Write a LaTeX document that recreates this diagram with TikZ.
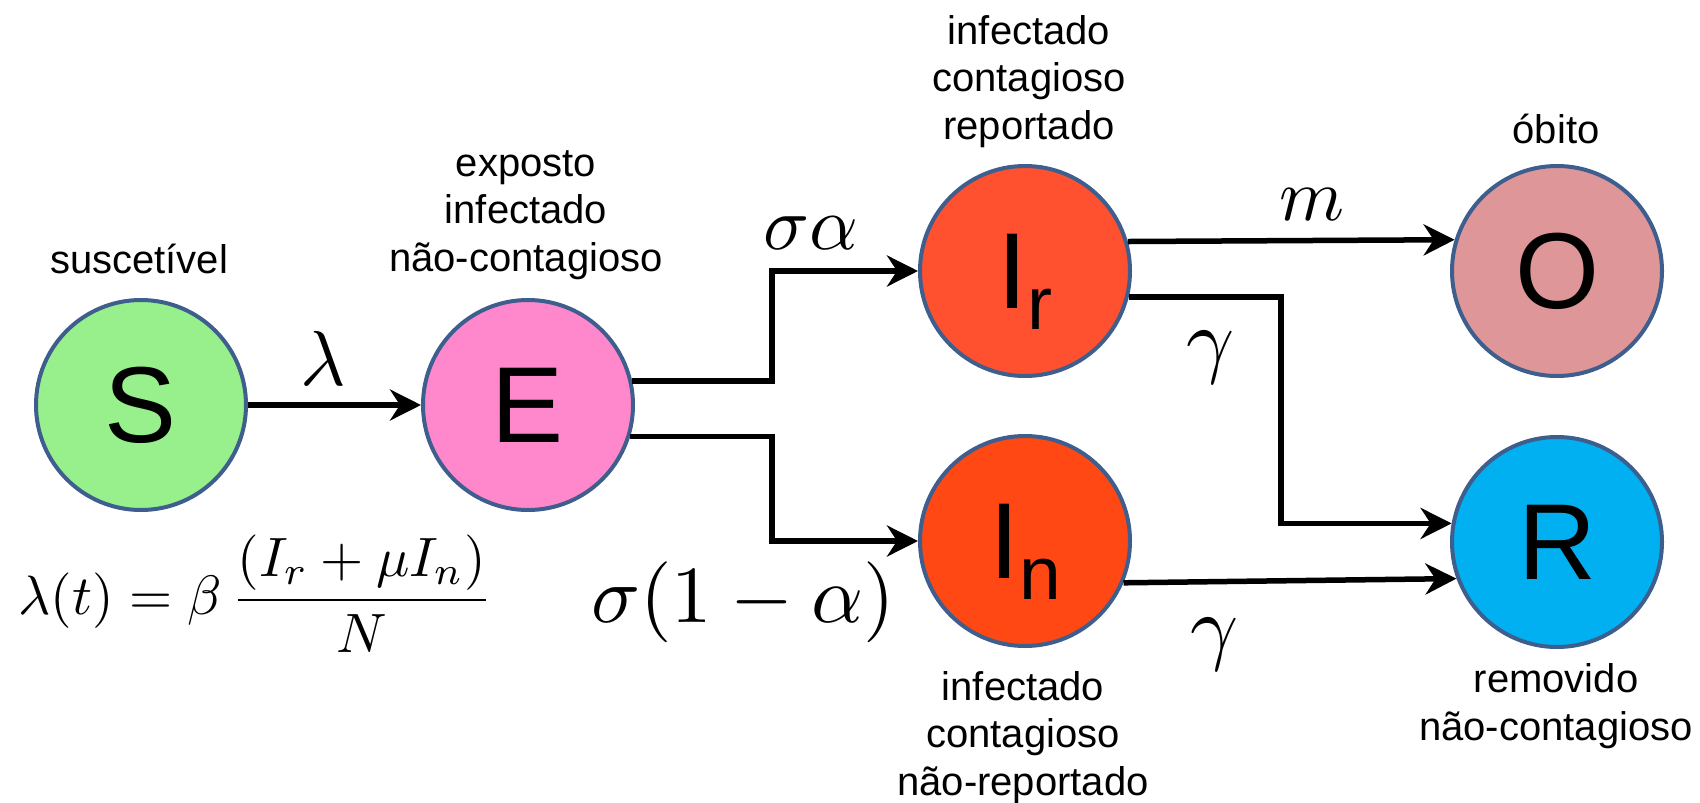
\documentclass[tikz,border=0pt]{standalone}
\usepackage{fontspec}
\usepackage{graphicx}
\setmainfont{Liberation Sans}
\usetikzlibrary{arrows.meta}
\definecolor{bordc}{HTML}{3E5E8E}
\definecolor{cS}{HTML}{97F08B}
\definecolor{cE}{HTML}{FF88CC}
\definecolor{cIr}{HTML}{FF5030}
\definecolor{cIn}{HTML}{FF4813}
\definecolor{cO}{HTML}{DE9698}
\definecolor{cR}{HTML}{00B0F0}
\begin{document}
\begin{tikzpicture}[x=1pt,y=1pt,
  st/.style={circle, draw=bordc, line width=4pt, minimum size=210pt, inner sep=0pt,
    font=\fontsize{108}{110}\selectfont},
  lab/.style={align=center, font=\fontsize{40}{47.5}\selectfont, inner sep=0pt, anchor=base},
  arr/.style={line width=5.5pt, -{Stealth[length=31pt,width=31pt,inset=10pt]}},
  rate/.style={inner sep=0pt, anchor=base},
]
\useasboundingbox (0,0) rectangle (1700,-803);

% compartments
\node[st, fill=cS] (S) at (141,-405) {S};
\node[st, fill=cE] (E) at (528,-405) {E};
\node[st, fill=cIr] (Ir) at (1025,-271) {I\smash{\raisebox{-21pt}{\fontsize{75}{75}\selectfont r}}};
\node[st, fill=cIn] (In) at (1025,-541) {I\smash{\raisebox{-21pt}{\fontsize{75}{75}\selectfont n}}};
\node[st, fill=cO] (O) at (1557,-271) {O};
\node[st, fill=cR] (R) at (1557,-542) {R};

% descriptive labels (anchor = baseline of last line)
\node[lab] (lS) at (139,-273) {suscetível};
\node[lab] (lE) at (526,-271) {exposto\\infectado\\não-contagioso};
\node[lab] (lIr) at (1029,-139) {infectado\\contagioso\\reportado};
\node[lab] (lO) at (1556,-143) {óbito};
\node[lab] (lIn) at (1023,-795) {infectado\\contagioso\\não-reportado};
\node[lab] (lR) at (1556,-740) {removido\\não-contagioso};

% split points
\coordinate (splitE) at (772,0);
\coordinate (splitR) at (1281,0);

% connectors
\draw[arr] (S.east) -- (E.west);
\draw[arr] (E.13) -| (Ir.west -| splitE) -- (Ir.west);
\draw[arr] (E.-17.4) -| (In.west -| splitE) -- (In.west);
\draw[arr] (Ir.16.3) -- (O.163.7);
\draw[arr] (Ir.-14.06) -| (R.170.86 -| splitR) -- (R.170.86);
\draw[arr] (In.-23.7) -- (R.200.8);

% rates
\node[rate] (rl) at (323,-385) {\scalebox{7.8}{$\lambda$}};
\node[rate] (rsa) at (811,-249) {\scalebox{7.6}{$\sigma\alpha$}};
\node[rate] (rsn) at (743,-622) {\scalebox{8.1}{$\sigma(1-\alpha)$}};
\node[rate] (rm) at (1312,-220) {\scalebox{7.4}{$m$}};
\node[rate] (rg1) at (1211,-367) {\scalebox{8.4}{$\gamma$}};
\node[rate] (rg2) at (1215,-654) {\scalebox{8.4}{$\gamma$}};

% force of infection
\node[inner sep=0pt, anchor=base west] (lam) at (18,-614)
  {\resizebox{474pt}{!}{$\lambda(t) = \beta\,{\displaystyle\frac{(I_r+\mu I_n)}{N}}$}};
\end{tikzpicture}
\end{document}
